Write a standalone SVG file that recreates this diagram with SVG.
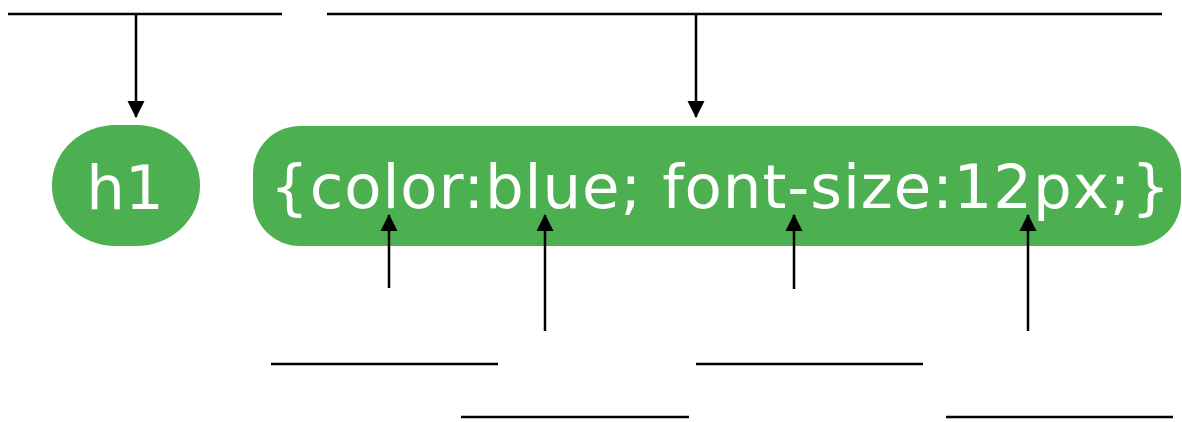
<svg xmlns="http://www.w3.org/2000/svg" width="1182" height="422" viewBox="0 0 1182 422">
<style>
.node{fill:#4CAF50}
.lbl{fill:#ffffff;font-family:"DejaVu Sans","Verdana",sans-serif;font-size:61px}
.ln{stroke:#000;stroke-width:2.5;fill:none}
</style>
<defs>
<marker id="ah" viewBox="0 0 17 18" refX="16" refY="9" markerWidth="17" markerHeight="18" markerUnits="userSpaceOnUse" orient="auto">
<path d="M0,0.5 L17,9 L0,17.5 Z" fill="#000"/>
</marker>
</defs>
<rect width="1182" height="422" fill="#fff"/>
<g id="selector">
<rect class="node" x="52" y="125" width="148" height="121" rx="64" ry="60"/>
<text class="lbl" x="125" y="209" text-anchor="middle">h1</text>
</g>
<g id="declaration">
<rect class="node" x="253" y="126" width="928" height="120" rx="47" ry="47"/>
<text class="lbl" x="270" y="208" textLength="900" lengthAdjust="spacing">{color:blue; font-size:12px;}</text>
</g>
<g id="connectors">
<line class="ln" x1="8" y1="14" x2="282" y2="14"/>
<line class="ln" x1="327" y1="14" x2="1162" y2="14"/>
<line class="ln" x1="136" y1="14" x2="136" y2="117" marker-end="url(#ah)"/>
<line class="ln" x1="696" y1="14" x2="696" y2="117" marker-end="url(#ah)"/>
<line class="ln" x1="389" y1="288" x2="389" y2="215" marker-end="url(#ah)"/>
<line class="ln" x1="545" y1="331" x2="545" y2="215" marker-end="url(#ah)"/>
<line class="ln" x1="794" y1="289" x2="794" y2="215" marker-end="url(#ah)"/>
<line class="ln" x1="1028" y1="331" x2="1028" y2="215" marker-end="url(#ah)"/>
<line class="ln" x1="271" y1="364" x2="498" y2="364"/>
<line class="ln" x1="461" y1="417" x2="689" y2="417"/>
<line class="ln" x1="696" y1="364" x2="923" y2="364"/>
<line class="ln" x1="946" y1="417" x2="1173" y2="417"/>
</g>
</svg>
